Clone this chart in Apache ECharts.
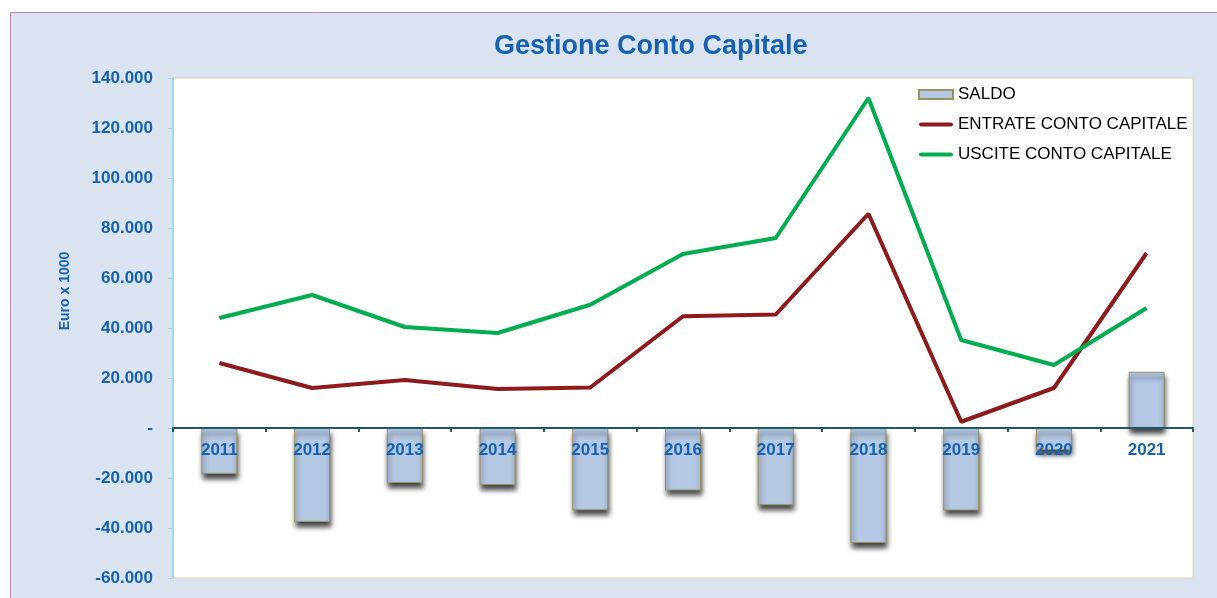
<!DOCTYPE html>
<html>
<head>
<meta charset="utf-8">
<script src="https://cdn.jsdelivr.net/npm/echarts@6/dist/echarts.min.js"></script>
<style>
html,body{margin:0;padding:0;background:#ffffff;}
#chart{width:1217px;height:598px;}
</style>
</head>
<body>
<div id="chart"></div>
<script>
var years = ['2011','2012','2013','2014','2015','2016','2017','2018','2019','2020','2021'];
var saldo = [-18400, -37600, -22000, -22800, -32900, -25000, -30900, -46000, -33000, -8800, 22500];
var entrate = [26000, 16000, 19200, 15600, 16200, 44700, 45400, 85700, 2500, 16000, 70000];
var uscite = [44000, 53200, 40400, 38000, 49300, 69600, 76000, 132000, 35200, 25200, 48000];
var yTicks = {min: -60000, max: 140000, interval: 20000};
var seriesNames = ['SALDO', 'ENTRATE CONTO CAPITALE', 'USCITE CONTO CAPITALE'];
var titleText = 'Gestione Conto Capitale';
var yName = 'Euro x 1000';

var blue = '#1662b0';
var FONT = '"Liberation Sans", Arial, sans-serif';
function fmt(v){
  if (v === 0) return '-';
  var s = Math.abs(v).toString().replace(/\B(?=(\d{3})+(?!\d))/g, '.');
  return (v < 0 ? '-' : '') + s;
}
var lineIcon = 'path://M2,0 H32 A2,2 0 0 1 32,4 H2 A2,2 0 0 1 2,0 Z';

var chart = echarts.init(document.getElementById('chart'), null, {renderer: 'canvas'});
chart.setOption({
  animation: false,
  backgroundColor: 'transparent',
  textStyle: {fontFamily: FONT},
  graphic: [
    {type: 'rect', z: -10, silent: true,
     shape: {x: 10.5, y: 12.5, width: 1230, height: 620},
     style: {fill: '#dae3f1', stroke: '#c583ac', lineWidth: 1}},
    {type: 'text', z: 10, x: 65, y: 291, rotation: Math.PI / 2,
     style: {text: yName, fill: blue, font: 'bold 14px ' + FONT,
             align: 'center', verticalAlign: 'middle'}}
  ],
  title: {
    text: titleText, left: 494, top: 33, padding: 0,
    textStyle: {color: blue, fontSize: 27, fontWeight: 'bold', fontFamily: FONT}
  },
  legend: {
    orient: 'vertical', left: 918, top: 86, padding: 0, itemGap: 13,
    itemWidth: 34, itemHeight: 9,
    textStyle: {color: '#000', fontSize: 17, lineHeight: 17, fontFamily: FONT},
    data: [
      {name: seriesNames[0], icon: 'rect'},
      {name: seriesNames[1], icon: lineIcon},
      {name: seriesNames[2], icon: lineIcon}
    ]
  },
  grid: {
    left: 173, top: 78, right: 24, bottom: 20, outerBoundsMode: 'none', containLabel: false,
    show: true, backgroundColor: '#ffffff', borderColor: '#ddd5b6', borderWidth: 1
  },
  xAxis: {
    type: 'category', data: years, z: 5,
    axisLine: {onZero: true, lineStyle: {color: '#1f5668', width: 2}},
    axisTick: {show: true, length: 4, lineStyle: {color: '#1f5668', width: 2}},
    axisLabel: {color: blue, fontSize: 17, fontWeight: 'bold', margin: -136}
  },
  yAxis: {
    type: 'value', min: yTicks.min, max: yTicks.max, interval: yTicks.interval,
    axisLine: {show: true, lineStyle: {color: '#a3d4e8', width: 2}},
    axisTick: {show: true, length: 5, lineStyle: {color: '#a3d4e8'}},
    splitLine: {show: false},
    axisLabel: {color: blue, fontSize: 17, fontWeight: 'bold', margin: 20, formatter: fmt}
  },
  series: [
    {name: seriesNames[0], type: 'bar', data: saldo, barWidth: 36, z: 2,
     itemStyle: {color: '#b4c8e4', borderColor: '#9b9160', borderWidth: 1,
                 shadowColor: 'rgba(0,0,0,0.75)', shadowBlur: 5, shadowOffsetX: 1, shadowOffsetY: 5}},
    {name: seriesNames[1], type: 'line', data: entrate, symbol: 'none', z: 6,
     lineStyle: {color: '#8e1a1c', width: 4}, itemStyle: {color: '#8e1a1c'}},
    {name: seriesNames[2], type: 'line', data: uscite, symbol: 'none', z: 6,
     lineStyle: {color: '#00ad4e', width: 4}, itemStyle: {color: '#00ad4e'}}
  ]
});
</script>
</body>
</html>
